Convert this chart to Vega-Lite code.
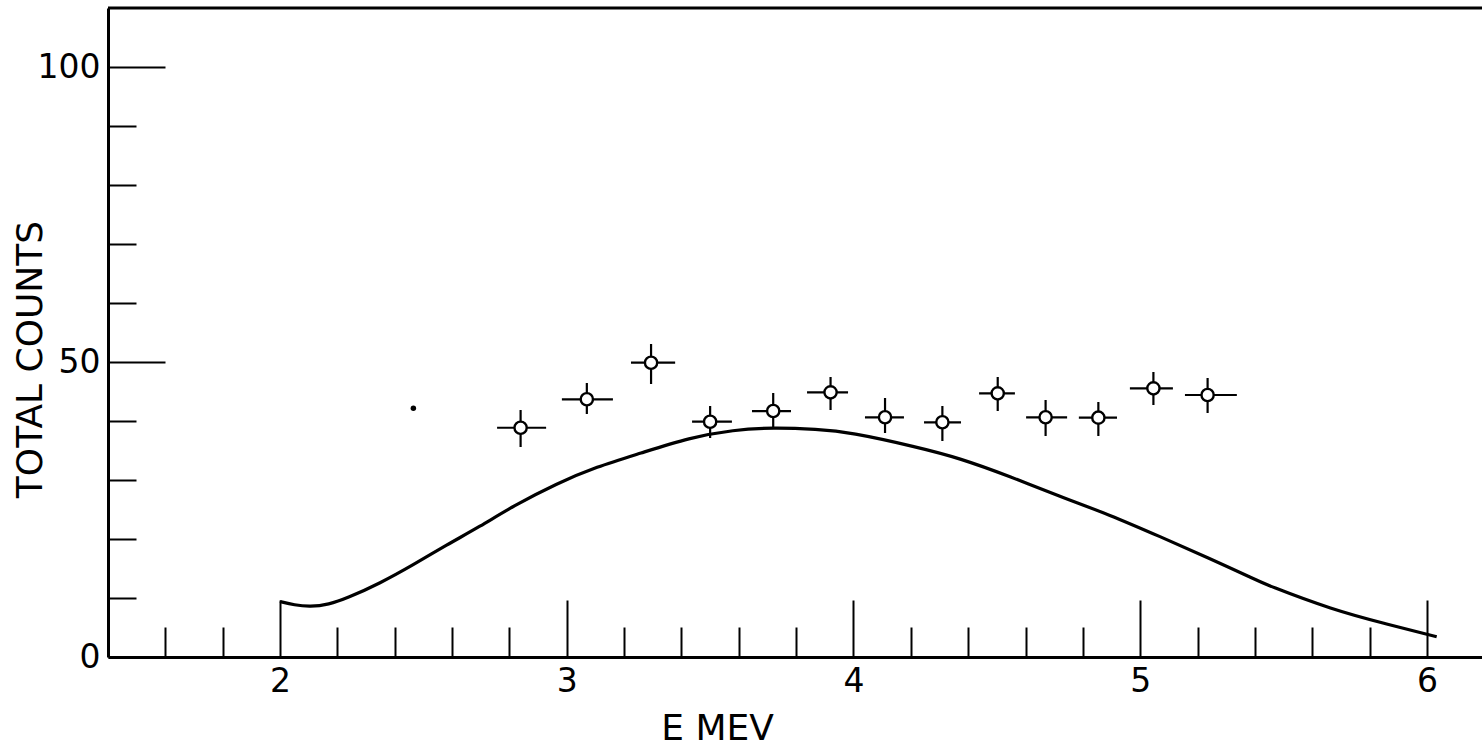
{
  "$schema": "https://vega.github.io/schema/vega-lite/v6.json",
  "autosize": {"type": "none"},
  "padding": {"left": 108, "top": 8, "right": 0, "bottom": 91},
  "width": 1374,
  "height": 649,
  "background": "white",
  "config": {
    "view": {"stroke": null},
    "axis": {
      "domainColor": "black",
      "domainWidth": 3,
      "tickColor": "black",
      "tickWidth": 2,
      "grid": false,
      "labelFont": "DejaVu Sans",
      "labelFontSize": 33,
      "labelColor": "black",
      "titleFont": "DejaVu Sans",
      "titleFontSize": 36,
      "titleFontWeight": "normal",
      "titleColor": "black"
    }
  },
  "datasets": {
    "pts": [
      {"E": 2.839, "N": 38.86, "Elo": 2.757, "Ehi": 2.928, "Nlo": 35.59, "Nhi": 41.86},
      {"E": 3.070, "N": 43.68, "Elo": 2.983, "Ehi": 3.161, "Nlo": 41.19, "Nhi": 46.44},
      {"E": 3.294, "N": 49.88, "Elo": 3.224, "Ehi": 3.378, "Nlo": 46.27, "Nhi": 53.05},
      {"E": 3.500, "N": 39.88, "Elo": 3.437, "Ehi": 3.576, "Nlo": 37.12, "Nhi": 42.54},
      {"E": 3.720, "N": 41.69, "Elo": 3.646, "Ehi": 3.782, "Nlo": 38.98, "Nhi": 44.75},
      {"E": 3.920, "N": 44.86, "Elo": 3.838, "Ehi": 3.981, "Nlo": 41.86, "Nhi": 47.46},
      {"E": 4.110, "N": 40.63, "Elo": 4.040, "Ehi": 4.176, "Nlo": 37.97, "Nhi": 43.90},
      {"E": 4.310, "N": 39.78, "Elo": 4.246, "Ehi": 4.375, "Nlo": 36.61, "Nhi": 42.54},
      {"E": 4.503, "N": 44.69, "Elo": 4.438, "Ehi": 4.563, "Nlo": 41.69, "Nhi": 47.46},
      {"E": 4.670, "N": 40.63, "Elo": 4.602, "Ehi": 4.745, "Nlo": 37.46, "Nhi": 43.56},
      {"E": 4.854, "N": 40.56, "Elo": 4.786, "Ehi": 4.919, "Nlo": 37.46, "Nhi": 43.22},
      {"E": 5.046, "N": 45.54, "Elo": 4.964, "Ehi": 5.114, "Nlo": 42.71, "Nhi": 48.31},
      {"E": 5.235, "N": 44.41, "Elo": 5.156, "Ehi": 5.337, "Nlo": 41.36, "Nhi": 47.29}
    ],
    "curve": [
      {"E": 2.000, "N": 9.4},
      {"E": 2.050, "N": 8.8},
      {"E": 2.105, "N": 8.5},
      {"E": 2.170, "N": 8.9},
      {"E": 2.233, "N": 9.95},
      {"E": 2.349, "N": 12.5},
      {"E": 2.464, "N": 15.6},
      {"E": 2.581, "N": 19.0},
      {"E": 2.697, "N": 22.1},
      {"E": 2.813, "N": 25.6},
      {"E": 2.965, "N": 29.4},
      {"E": 3.104, "N": 32.25},
      {"E": 3.255, "N": 34.5},
      {"E": 3.430, "N": 37.2},
      {"E": 3.581, "N": 38.5},
      {"E": 3.720, "N": 38.9},
      {"E": 3.872, "N": 38.6},
      {"E": 3.988, "N": 38.1},
      {"E": 4.220, "N": 35.6},
      {"E": 4.371, "N": 33.7},
      {"E": 4.546, "N": 30.6},
      {"E": 4.720, "N": 27.2},
      {"E": 4.894, "N": 24.1},
      {"E": 5.069, "N": 20.4},
      {"E": 5.243, "N": 16.7},
      {"E": 5.394, "N": 13.3},
      {"E": 5.441, "N": 12.2},
      {"E": 5.673, "N": 7.97},
      {"E": 5.848, "N": 5.71},
      {"E": 6.034, "N": 3.44}
    ],
    "speck": [
      {"E": 2.465, "N": 42.15}
    ],
    "border": [
      {"N": 110}
    ]
  },
  "layer": [
    {
      "data": {"name": "curve"},
      "mark": {"type": "line", "color": "black", "strokeWidth": 3.2, "interpolate": "basis"},
      "encoding": {
        "x": {
          "field": "E", "type": "quantitative",
          "scale": {"domain": [1.4, 6.192], "nice": false, "zero": false},
          "axis": {
            "title": "E MEV",
            "titleX": 609, "titleY": 71, "titleAlign": "center", "titleBaseline": "middle", "titleAngle": 0,
            "values": [1.6, 1.8, 2, 2.2, 2.4, 2.6, 2.8, 3, 3.2, 3.4, 3.6, 3.8, 4, 4.2, 4.4, 4.6, 4.8, 5, 5.2, 5.4, 5.6, 5.8, 6],
            "format": ".0f",
            "labelExpr": "abs(datum.value - round(datum.value)) < 0.001 ? datum.label : ''",
            "labelFlush": false,
            "labelOverlap": false,
            "labelBaseline": "top",
            "labelPadding": 65,
            "tickSize": {"condition": {"test": "abs(datum.value - round(datum.value)) < 0.001", "value": -57}, "value": -30}
          }
        },
        "y": {
          "field": "N", "type": "quantitative",
          "scale": {"domain": [0, 110], "nice": false},
          "axis": {
            "title": "TOTAL COUNTS",
            "titleX": -78, "titleY": 351, "titleAlign": "center", "titleBaseline": "middle", "titleAngle": 270,
            "values": [0, 10, 20, 30, 40, 50, 60, 70, 80, 90, 100],
            "labelExpr": "datum.value % 50 === 0 ? datum.label : ''",
            "labelPadding": 65,
            "labelOverlap": false,
            "tickSize": {"condition": {"test": "datum.value % 50 === 0", "value": -57}, "value": -28}
          }
        }
      }
    },
    {
      "data": {"name": "pts"},
      "mark": {"type": "rule", "color": "black", "strokeWidth": 2.2},
      "encoding": {
        "x": {"field": "Elo", "type": "quantitative"},
        "x2": {"field": "Ehi"},
        "y": {"field": "N", "type": "quantitative"}
      }
    },
    {
      "data": {"name": "pts"},
      "mark": {"type": "rule", "color": "black", "strokeWidth": 2.2},
      "encoding": {
        "x": {"field": "E", "type": "quantitative"},
        "y": {"field": "Nlo", "type": "quantitative"},
        "y2": {"field": "Nhi"}
      }
    },
    {
      "data": {"name": "pts"},
      "mark": {"type": "point", "shape": "circle", "filled": false, "fill": "white", "fillOpacity": 1, "stroke": "black", "strokeWidth": 2.4, "size": 150, "opacity": 1},
      "encoding": {
        "x": {"field": "E", "type": "quantitative"},
        "y": {"field": "N", "type": "quantitative"}
      }
    },
    {
      "data": {"name": "speck"},
      "mark": {"type": "point", "shape": "circle", "filled": true, "color": "black", "size": 30, "opacity": 1},
      "encoding": {
        "x": {"field": "E", "type": "quantitative"},
        "y": {"field": "N", "type": "quantitative"}
      }
    },
    {
      "data": {"name": "border"},
      "mark": {"type": "rule", "color": "black", "strokeWidth": 3},
      "encoding": {
        "y": {"field": "N", "type": "quantitative"}
      }
    }
  ]
}
